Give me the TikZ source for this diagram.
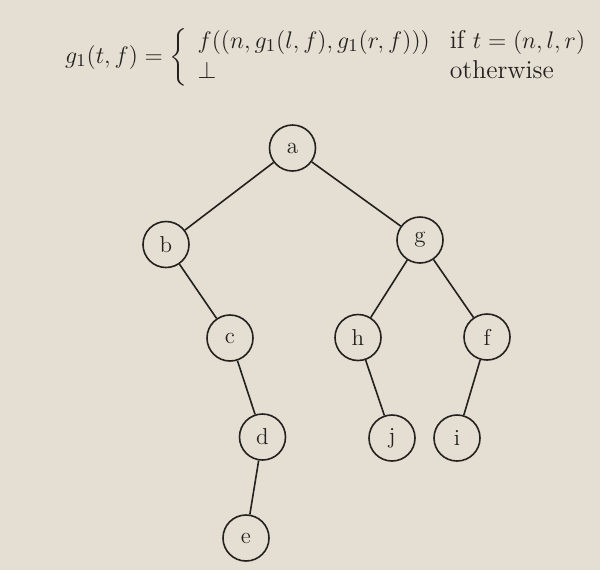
\documentclass[tikz,border=0pt]{standalone}
\usepackage{amsmath}
\definecolor{paper}{RGB}{229,223,211}
\definecolor{ink}{RGB}{35,32,30}
\tikzset{
	vertex/.style={draw=ink, circle, line width=0.8pt, minimum size=23pt, inner sep=0pt, font=\fontsize{11.5}{13}\selectfont, text=ink},
	edge/.style={draw=ink, line width=0.8pt}
}
\begin{document}
\begin{tikzpicture}[x=25pt, y=-25pt]
	\fill[paper] (0,0) rectangle (12,11.4);
	\useasboundingbox (0,0) rectangle (12,11.4);
	% the definition above the tree
	\node[anchor=east, text=ink, inner sep=0pt, font=\fontsize{12.9}{15}\selectfont] (def) at (11.76,1.14)
		{$g_1(t,f) = \left\{\hspace{5pt}\begin{array}{@{}l@{\hspace{10pt}}l@{}} f((n,g_1(l,f),g_1(r,f))) & \text{if } t=(n,l,r)\\ \bot & \text{otherwise}\end{array}\right.$};
	
	\node[vertex] (a) at (5.85,2.96) {a};
	\node[vertex] (b) at (3.32,4.89) {b};
	\node[vertex] (g) at (8.4,4.8) {g};
	\node[vertex] (c) at (4.6,6.76) {c};
	\node[vertex] (h) at (7.16,6.75) {h};
	\node[vertex] (f) at (9.74,6.74) {f};
	\node[vertex] (d) at (5.25,8.74) {d};
	\node[vertex] (j) at (7.84,8.76) {j};
	\node[vertex] (i) at (9.14,8.76) {i};
	\node[vertex] (e) at (4.92,10.76) {e};
	
	\draw[edge] (a) -- (b);
	\draw[edge] (a) -- (g);
	\draw[edge] (b) -- (c);
	\draw[edge] (c) -- (d);
	\draw[edge] (d) -- (e);
	\draw[edge] (g) -- (h);
	\draw[edge] (g) -- (f);
	\draw[edge] (h) -- (j);
	\draw[edge] (f) -- (i);
\end{tikzpicture}
\end{document}
